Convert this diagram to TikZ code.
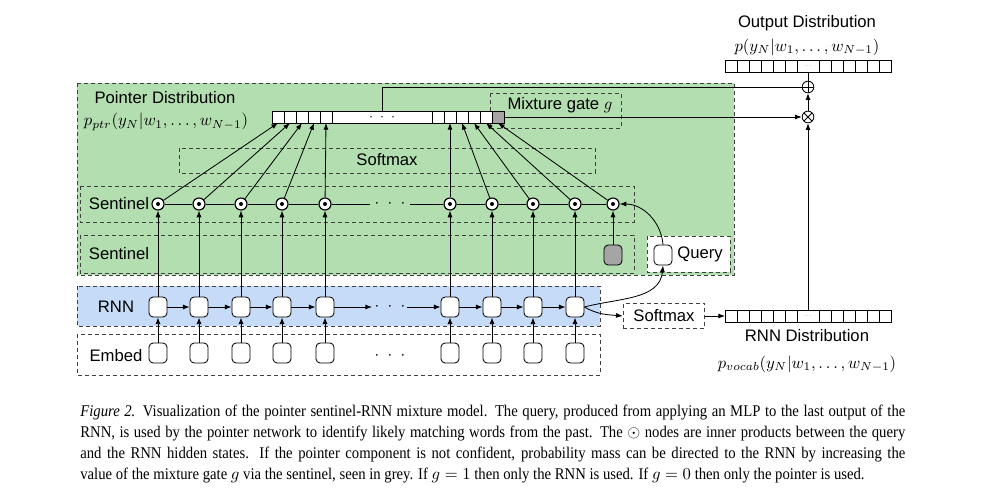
\documentclass[tikz,border=0pt]{standalone}
\usepackage{fontspec}
\setsansfont{Liberation Sans}
\newfontfamily\capfont[FakeStretch=0.9]{Liberation Serif}
\usetikzlibrary{calc,arrows.meta}
\definecolor{ptrgreen}{RGB}{178,222,176}
\definecolor{rnnblue}{RGB}{198,219,248}
\definecolor{gategrey}{RGB}{165,165,165}
\tikzset{
	dbox/.style={draw=black!75, dash pattern=on 2.4pt off 1.8pt, line width=0.5pt},
	dotprod/.style={circle, draw, fill=white, line width=0.7pt, minimum size=7.2pt, inner sep=0pt,
		path picture={\fill[black] (path picture bounding box.center) circle[radius=1.2pt];}},
	cellbox/.style={draw, fill=white, line width=0.5pt, minimum width=7.2pt, minimum height=7.2pt, inner sep=0pt, outer sep=0pt},
	hid/.style={draw, fill=white, rounded corners=2.5pt, line width=0.5pt, minimum width=10.8pt, minimum height=12pt, inner sep=0pt},
	arr/.style={-{Latex[length=4pt,width=3pt]}, line width=0.5pt},
	opplus/.style={circle, draw, fill=white, line width=0.5pt, minimum size=7pt, inner sep=0pt,
		path picture={\draw (path picture bounding box.north) -- (path picture bounding box.south)
			(path picture bounding box.west) -- (path picture bounding box.east);}},
	optimes/.style={circle, draw, fill=white, line width=0.5pt, minimum size=7pt, inner sep=0pt,
		path picture={\draw (path picture bounding box.north west) -- (path picture bounding box.south east)
			(path picture bounding box.south west) -- (path picture bounding box.north east);}},
	lab/.style={font=\sffamily\fontsize{10}{12}\selectfont, inner sep=0pt},
}

\begin{document}
\begin{tikzpicture}[x=0.6pt, y=-0.6pt]
	%%%%% START %%%%%
	\useasboundingbox (0,0) rectangle (1000,500);
	
	\draw[dbox, fill=ptrgreen] (77,83) rectangle (734,275);
	\draw[dbox, fill=rnnblue] (77,286) rectangle (600,326);
	\draw[dbox] (77,334) rectangle (600,375);
	\draw[dbox] (179,148) rectangle (595,173);
	\draw[dbox] (80,186) rectangle (634,222);
	\draw[dbox] (80,235) rectangle (634,273);
	\draw[dbox] (490,93) rectangle (621,128);
	\draw[dbox, fill=white] (647,236) rectangle (730,272);
	
	\node[lab] (ptrlab) at (165,98) {Pointer Distribution};
	\node[lab] (ptrp) at (166,122) {$p_{ptr}(y_N|w_1,\ldots,w_{N-1})$};
	\node[lab] (smxlab) at (387,160) {Softmax};
	\node[lab] (gatelab) at (560,105) {Mixture gate $g$};
	\node[lab] (sentA) at (119,204) {Sentinel};
	\node[lab] (sentB) at (119,254) {Sentinel};
	\node[lab] (rnnlab) at (116,307) {RNN};
	\node[lab] (emblab) at (116,356) {Embed};
	\node[lab] (qlab) at (700,254) {Query};
	\node[lab] (outlab) at (807,23) {Output Distribution};
	\node[lab] (outp) at (807,47) {$p(y_N|w_1,\ldots,w_{N-1})$};
	\node[lab] (rdlab) at (807,336) {RNN Distribution};
	\node[lab] (rdp) at (807,364) {$p_{vocab}(y_N|w_1,\ldots,w_{N-1})$};
	
	% pointer distribution bar
	\foreach \i in {1,...,5} \node[cellbox] (pc\i) at ({266+12*\i},117) {};
	\node[cellbox, minimum width=60pt, font=\fontsize{8}{8}\selectfont] (pmid) at (382,117) {$\cdot\;\cdot\;\cdot$};
	\foreach \i in {1,...,5} \node[cellbox] (qc\i) at ({426+12*\i},117) {};
	\node[cellbox, fill=gategrey] (gc) at (498,117) {};
	
	% output and rnn distribution bars
	\foreach \i in {1,...,6} {
		\node[cellbox] (ol\i) at ({719+12*\i},66) {};
		\node[cellbox] (or\i) at ({813+12*\i},66) {};
		\node[cellbox] (rl\i) at ({719+12*\i},316) {};
		\node[cellbox] (rr\i) at ({813+12*\i},316) {};
	}
	\node[cellbox, minimum width=13.2pt, font=\fontsize{4}{4}\selectfont\color{black!50}] (om) at (808,66) {...};
	\node[cellbox, minimum width=13.2pt, font=\fontsize{4}{4}\selectfont\color{black!50}] (rm) at (808,316) {...};
	\node[opplus] (plus) at (808,87) {};
	\node[optimes] (times) at (808,117) {};
	
	\foreach \x [count=\i] in {158,199,241,282,325,450,492,533,575} {
		\node[hid] (e\i) at (\x,353) {};
		\node[hid] (r\i) at (\x,307) {};
		\node[dotprod] (s\i) at (\x,204) {};
	}
	\node[dotprod] (s10) at (613,204) {};
	\node[hid, fill=gategrey] (g) at (613,255) {};
	\node[hid] (q) at (663,255) {};
	\node[dbox, lab, fill=white, minimum width=49pt, minimum height=15pt] (smx) at (664,316) {Softmax};
	
	\node[lab] (sdots) at (390,204) {$\cdot\;\cdot\;\cdot$};
	\node[lab] (rdots) at (390,307) {$\cdot\;\cdot\;\cdot$};
	\node[lab] (edots) at (390,356) {$\cdot\;\cdot\;\cdot$};
	\coordinate (sgapA) at (370,204);
	\coordinate (sgapB) at (410,204);
	\coordinate (rgapA) at (372,307);
	\coordinate (rgapB) at (407,307);
	
	\foreach \i in {1,...,9} {
		\draw[arr] (e\i) -- (r\i);
		\draw[arr] (r\i) -- (s\i);
	}
	\foreach \i/\j in {1/2,2/3,3/4,4/5,6/7,7/8,8/9} \draw[arr] (r\i) -- (r\j);
	\draw[arr] (r5) -- (rgapA);
	\draw[arr] (rgapB) -- (r6);
	\draw[line width=0.5pt] (s1) -- (s2) -- (s3) -- (s4) -- (s5) -- (sgapA);
	\draw[line width=0.5pt] (sgapB) -- (s6) -- (s7) -- (s8) -- (s9) -- (s10);
	
	\foreach \i in {1,...,5} \draw[arr] (s\i) -- (pc\i.south);
	\foreach \i/\j in {6/2,7/3,8/4,9/5} \draw[arr] (s\i) -- (qc\j.south);
	\draw[arr] (s10) -- (gc.south);
	\draw[arr] (g) -- (s10);
	
	\draw[arr] (r9.east) to[out=15,in=-95] (q.south);
	\draw[arr] (q.north) to[out=95,in=0] (s10.east);
	\draw[arr] (r9.east) to[out=-30,in=175] (smx.west);
	\draw[arr] (smx.east) -- (rl1.west);
	
	\draw[arr] (rm.north) -- (times.south);
	\draw[arr] (times.north) -- (plus.south);
	\draw[line width=0.5pt] (plus.north) -- (om.south);
	\draw[arr] (gc.east) -- (times.west);
	\draw[line width=0.5pt] (pmid.north) |- (plus.west);
	
	\node[anchor=north west, inner sep=0pt, text width=495pt, align=justify,
		font=\capfont\fontsize{9.8}{12.6}\selectfont] (cap) at (80,405)
		{\textit{Figure 2.} Visualization of the pointer sentinel-RNN mixture model. The query, produced from applying an MLP to the last output of the\linebreak
		RNN, is used by the pointer network to identify likely matching words from the past. The $\odot$ nodes are inner products between the query\linebreak
		and the RNN hidden states. If the pointer component is not confident, probability mass can be directed to the RNN by increasing the\linebreak
		value of the mixture gate $g$ via the sentinel, seen in grey. If $g=1$ then only the RNN is used. If $g=0$ then only the pointer is used.};
	
	%%%%% END %%%%%
\end{tikzpicture}
\end{document}
